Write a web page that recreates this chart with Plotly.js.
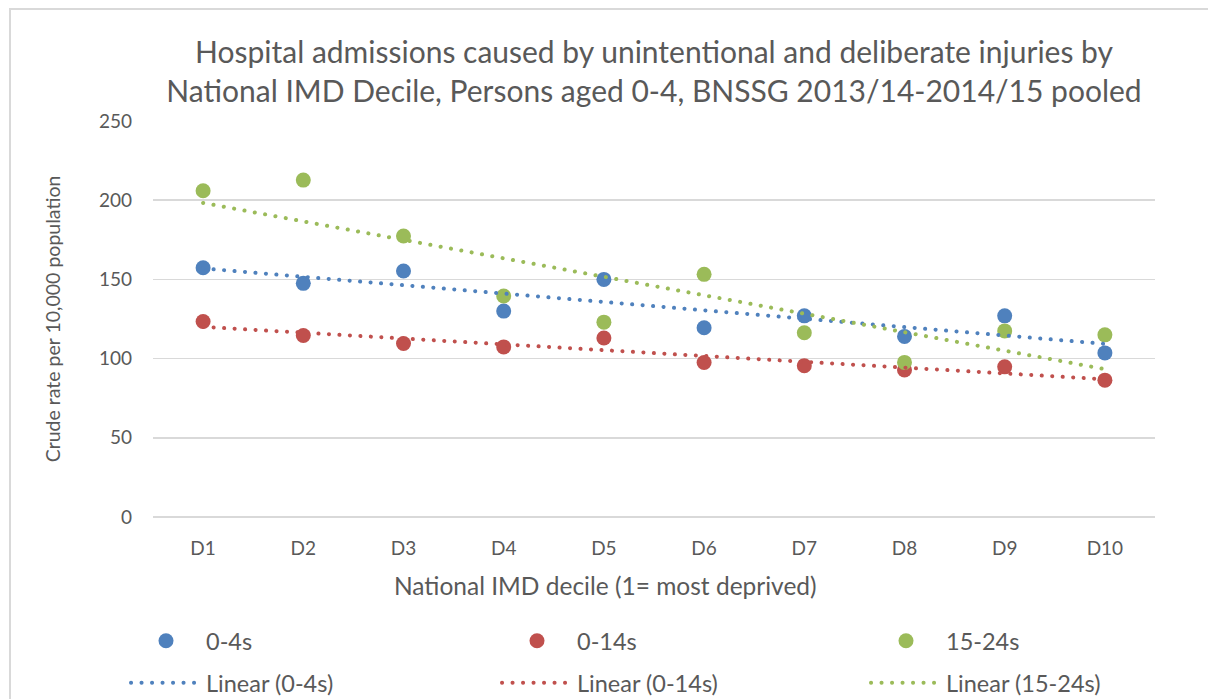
<!DOCTYPE html>
<html>
<head>
<meta charset="utf-8">
<script src="https://cdn.plot.ly/plotly-3.0.1.min.js"></script>
<style>
  html, body { margin: 0; padding: 0; background: #fff; }
  #chart { position: absolute; left: 0; top: 0; width: 1208px; height: 699px; }
  #frame { position: absolute; left: 9px; top: 8px; width: 1199px; height: 691px;
           border-left: 2px solid #d9d9d9; border-top: 2px solid #d9d9d9; pointer-events: none; }
  .js-line { stroke-linecap: round; }
</style>
</head>
<body>
<div id="chart"></div>
<div id="frame"></div>
<script>
// ---- data ----
const deciles = ["D1","D2","D3","D4","D5","D6","D7","D8","D9","D10"];
const rate0to4   = [157.4, 147.5, 155.3, 130.0, 150.0, 119.5, 127.0, 114.0, 127.0, 103.6];
const rate0to14  = [123.4, 114.6, 109.5, 107.4, 113.0,  97.5,  95.5,  92.8,  94.8,  86.4];
const rate15to24 = [206.0, 212.7, 177.4, 139.5, 123.0, 153.2, 116.3,  97.6, 117.5, 115.0];
const seriesNames = ["0-4s", "0-14s", "15-24s"];
const titleText = "Hospital admissions caused by unintentional and deliberate injuries by<br>National IMD Decile, Persons aged 0-4, BNSSG 2013/14-2014/15 pooled";
const xTitle = "National IMD decile (1= most deprived)";
const yTitle = "Crude rate per 10,000 population";

const colors = ["#4F81BD", "#C0504D", "#9BBB59"];
const FONT = "Lato, 'Open Sans', sans-serif";
const TXT = "#595959";

// least-squares linear trendline (Excel "Linear" trendline)
function linearFit(vals) {
  const n = vals.length;
  const xs = vals.map((_, i) => i + 1);
  const mx = xs.reduce((a, b) => a + b, 0) / n;
  const my = vals.reduce((a, b) => a + b, 0) / n;
  let sxy = 0, sxx = 0;
  for (let i = 0; i < n; i++) { sxy += (xs[i] - mx) * (vals[i] - my); sxx += (xs[i] - mx) ** 2; }
  const b = sxy / sxx, a = my - b * mx;
  return xs.map(x => a + b * x);
}

const allSeries = [rate0to4, rate0to14, rate15to24];
const traces = [];
allSeries.forEach((vals, i) => {
  traces.push({
    type: "scatter", mode: "markers", x: deciles, y: vals, name: seriesNames[i],
    marker: { color: colors[i], size: 15 },
    legend: i === 0 ? "legend" : "legend" + (i + 1),
    cliponaxis: false, hoverinfo: "x+y+name"
  });
});
allSeries.forEach((vals, i) => {
  traces.push({
    type: "scatter", mode: "lines", x: deciles, y: linearFit(vals), name: "Linear (" + seriesNames[i] + ")",
    line: { color: colors[i], width: 4, dash: "0.1px,10.4px" },
    legend: "legend" + (i + 4), hoverinfo: "skip"
  });
});

function legendAt(xpx, ypx) {
  return {
    xref: "container", yref: "container",
    x: xpx / 1208, y: 1 - ypx / 699, xanchor: "left", yanchor: "middle",
    orientation: "h", itemwidth: 70, bgcolor: "rgba(0,0,0,0)", borderwidth: 0,
    font: { family: FONT, size: 23.5, color: TXT }, itemclick: false, itemdoubleclick: false
  };
}

const layout = {
  width: 1208, height: 699,
  paper_bgcolor: "#fff", plot_bgcolor: "#fff",
  margin: { l: 153, r: 53, t: 121, b: 182 },
  font: { family: FONT, color: TXT },
  title: {
    text: titleText, font: { family: FONT, size: 30, color: TXT },
    x: 0.5, xref: "paper", xanchor: "center",
    y: 1 - 63 / 699, yref: "container", yanchor: "top"
  },
  xaxis: {
    type: "category", range: [-0.5, 9.5], showgrid: false, zeroline: false, showline: false,
    ticks: "", tickfont: { family: FONT, size: 19, color: TXT }, ticklabelstandoff: 18
  },
  yaxis: {
    range: [0, 250], dtick: 50, showgrid: true, gridcolor: "#d9d9d9", gridwidth: 1.5,
    zeroline: true, zerolinecolor: "#d9d9d9", zerolinewidth: 1.5, showline: false,
    ticks: "", tickfont: { family: FONT, size: 19, color: TXT }, ticklabelstandoff: 20,
    title: { text: yTitle, font: { family: FONT, size: 19.5, color: TXT }, standoff: 33 }
  },
  annotations: [{
    text: xTitle, showarrow: false,
    xref: "paper", yref: "paper", x: (605 - 153) / 1002, y: (517 - 585) / 396,
    xanchor: "center", yanchor: "middle",
    font: { family: FONT, size: 24.5, color: TXT }
  }],
  showlegend: true,
  legend: legendAt(126, 641),
  legend2: legendAt(497, 641),
  legend3: legendAt(866, 641),
  legend4: legendAt(126, 683),
  legend5: legendAt(497, 683),
  legend6: legendAt(866, 683)
};

Plotly.newPlot("chart", traces, layout, { displayModeBar: false, staticPlot: true });
</script>
</body>
</html>
